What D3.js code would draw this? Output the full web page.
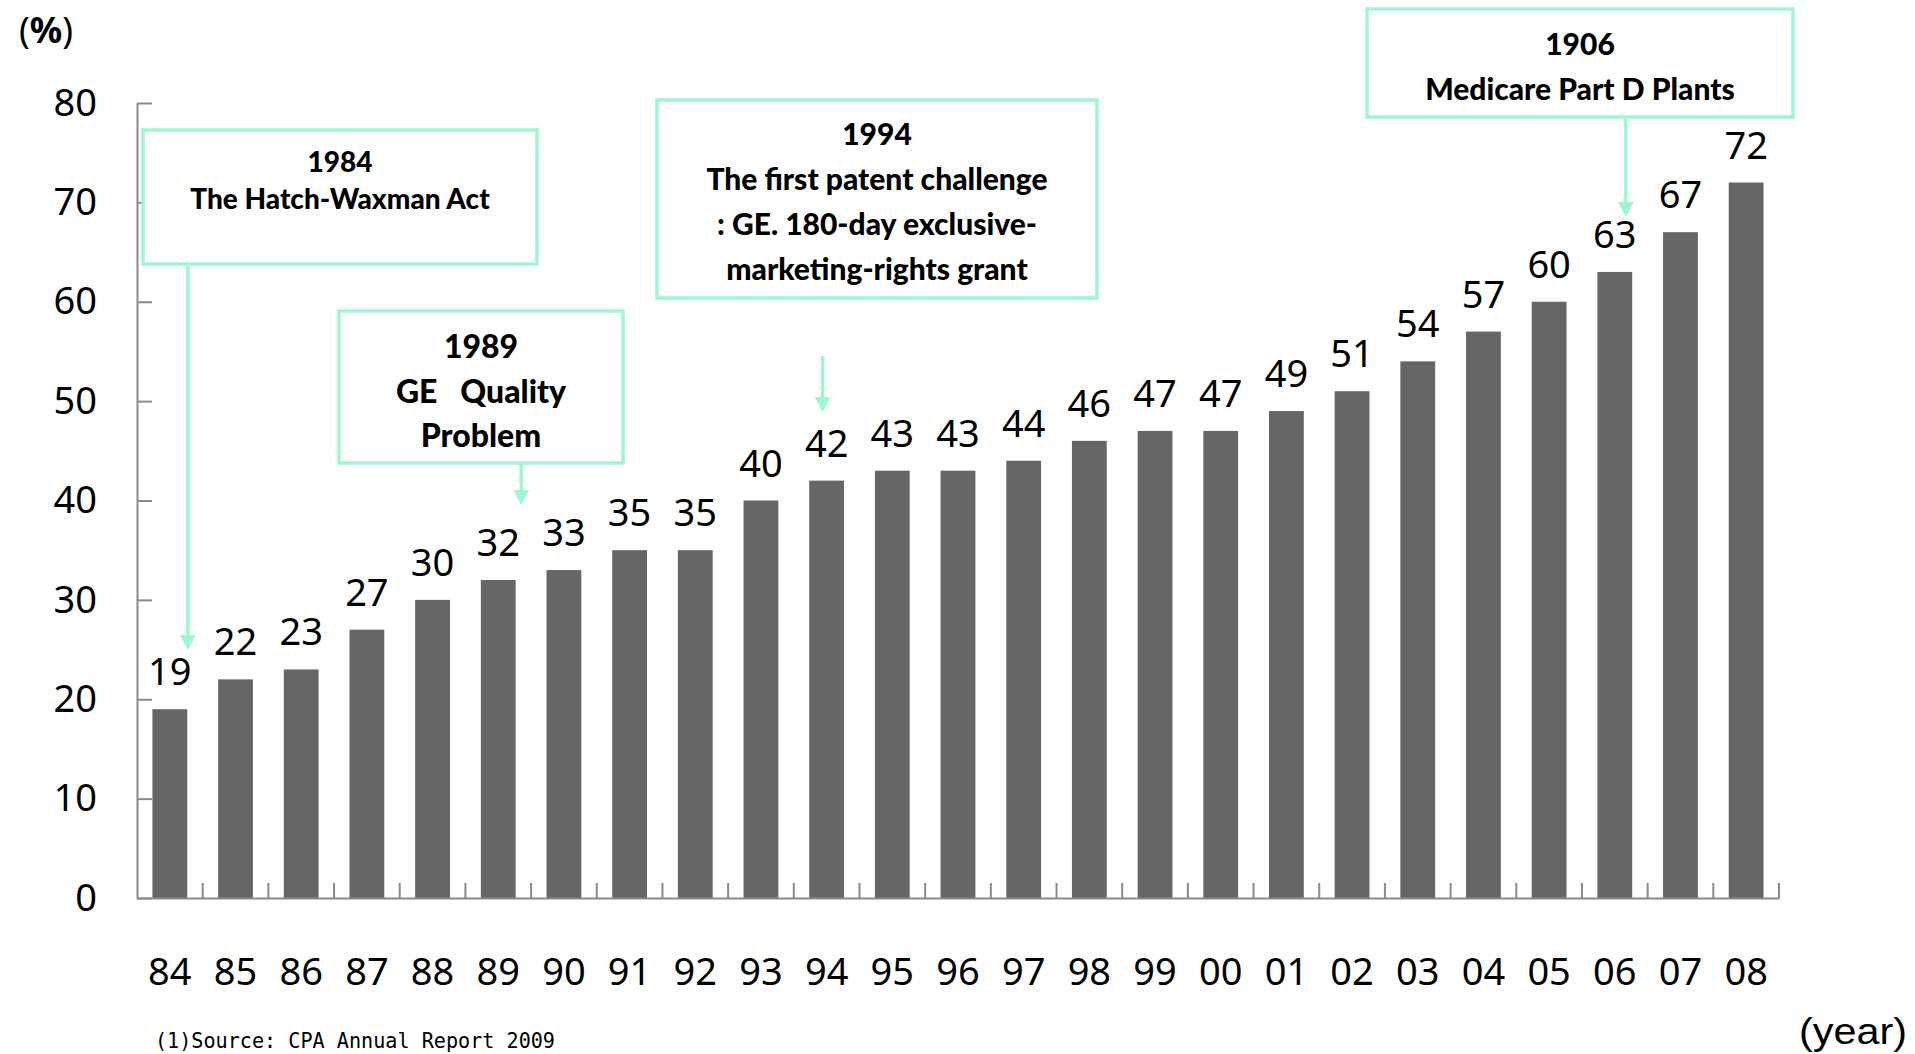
<!DOCTYPE html>
<html lang="en">
<head>
    <meta charset="UTF-8"/>
    <title>Generic share</title>
    <script src="https://cdn.jsdelivr.net/npm/d3@7"></script>
    <style>
        body {
            margin: 0;
            background: white;
        }
    </style>
</head>
<body>
<div id="chart"></div>
<script>
    const years = ["84", "85", "86", "87", "88", "89", "90", "91", "92", "93", "94", "95", "96",
        "97", "98", "99", "00", "01", "02", "03", "04", "05", "06", "07", "08"];
    const shares = [19, 22, 23, 27, 30, 32, 33, 35, 35, 40, 42, 43, 43, 44, 46, 47, 47, 49, 51, 54, 57, 60, 63, 67, 72];
    const yTicks = [0, 10, 20, 30, 40, 50, 60, 70, 80];

    // annotation texts
    const noteYears = ["84", "89", "94", "06"];
    const noteLines = [
        ["1984", "The Hatch-Waxman Act"],
        ["1989", "GE\u00a0\u00a0 Quality", "Problem"],
        ["1994", "The first patent challenge", ": GE. 180-day exclusive-", "marketing-rights grant"],
        ["1906", "Medicare Part D Plants"]
    ];

    const width = 1915;
    const height = 1054;
    const margin = {top: 103, right: 136, bottom: 156, left: 137};
    const gW = width - margin.left - margin.right;
    const gH = height - margin.top - margin.bottom;

    const mint = "#9ef7d0";
    const axisColor = "#8a8a8a";
    const numFont = "'Noto Sans', sans-serif";
    const noteFont = "Lato, 'Open Sans', sans-serif";

    const svg = d3.select("#chart")
        .append("svg")
        .attr("width", width)
        .attr("height", height);

    const g = svg.append("g").attr("transform", `translate(${margin.left}, ${margin.top})`);

    const xScale = d3.scaleBand()
        .domain(years)
        .range([0, gW])
        .paddingInner(0.47)
        .paddingOuter(0.235);
    const yScale = d3.scaleLinear().domain([0, 80]).range([gH, 0]);

    // Y axis, ticks pointing inward
    const yAxis = g.append("g")
        .call(d3.axisLeft(yScale).tickValues(yTicks).tickSizeInner(-15).tickSizeOuter(0).tickPadding(40));
    yAxis.selectAll("line, path").attr("stroke", axisColor).attr("stroke-width", 2);
    yAxis.selectAll("text")
        .style("font-family", numFont)
        .style("font-size", "38px")
        .attr("fill", "black");

    // bars
    g.selectAll(".bar")
        .data(shares)
        .join("rect")
        .attr("class", "bar")
        .attr("x", (d, i) => xScale(years[i]))
        .attr("y", d => yScale(d))
        .attr("width", xScale.bandwidth())
        .attr("height", d => gH - yScale(d))
        .attr("fill", "#666666");

    // value labels
    g.selectAll(".val")
        .data(shares)
        .join("text")
        .attr("class", "val")
        .attr("x", (d, i) => xScale(years[i]) + xScale.bandwidth() / 2)
        .attr("y", d => yScale(d) - 24)
        .attr("text-anchor", "middle")
        .style("font-family", numFont)
        .style("font-size", "38px")
        .text(d => d);

    // X axis: labels at band centers, ticks at band boundaries
    const xAxis = g.append("g")
        .attr("transform", `translate(0, ${gH})`)
        .call(d3.axisBottom(xScale).tickSize(0).tickPadding(60));
    xAxis.select(".domain").attr("stroke", axisColor).attr("stroke-width", 2);
    xAxis.selectAll("text")
        .style("font-family", numFont)
        .style("font-size", "38px")
        .attr("fill", "black");

    const half = xScale.step() * xScale.paddingInner() / 2;
    g.append("g")
        .selectAll("line")
        .data(years)
        .join("line")
        .attr("x1", d => xScale(d) + xScale.bandwidth() + half)
        .attr("x2", d => xScale(d) + xScale.bandwidth() + half)
        .attr("y1", gH)
        .attr("y2", gH - 15)
        .attr("stroke", axisColor)
        .attr("stroke-width", 2);

    // unit labels
    const pct = svg.append("text")
        .attr("x", 19)
        .attr("y", 43)
        .style("font-family", numFont)
        .style("font-size", "36px");
    pct.append("tspan").text("(");
    pct.append("tspan").style("font-weight", "bold").text("%");
    pct.append("tspan").text(")");

    svg.append("text")
        .attr("x", 1907)
        .attr("y", 1044)
        .attr("text-anchor", "end")
        .style("font-family", "'Liberation Sans', Arial, sans-serif")
        .style("font-size", "36px")
        .attr("textLength", 108)
        .attr("lengthAdjust", "spacingAndGlyphs")
        .text("(year)");

    svg.append("text")
        .attr("x", 155)
        .attr("y", 1048)
        .style("font-family", "'DejaVu Sans Mono', monospace")
        .style("font-size", "22px")
        .attr("textLength", 400)
        .attr("lengthAdjust", "spacingAndGlyphs")
        .text("(1)Source: CPA Annual Report 2009");

    // annotation boxes (page coordinates) and arrows
    const noteLayout = [
        {x: 143, y: 130, w: 394, h: 134, size: 28, base: 172, gap: 37, dx: 18, tip: 650, from: "box"},
        {x: 339, y: 311, w: 284, h: 152, size: 32, base: 358, gap: 44.5, dx: 23, tip: 505, from: "box"},
        {x: 657, y: 100, w: 440, h: 198, size: 30, base: 145, gap: 45, dx: -4, tip: 412, from: 356},
        {x: 1367, y: 9, w: 426, h: 108, size: 30, base: 55, gap: 45, dx: 11, tip: 217, from: "box"}
    ];

    const notes = svg.append("g");
    noteLayout.forEach((lay, i) => {
        const box = notes.append("g");
        box.append("rect")
            .attr("x", lay.x)
            .attr("y", lay.y)
            .attr("width", lay.w)
            .attr("height", lay.h)
            .attr("fill", "white")
            .attr("stroke", mint)
            .attr("stroke-width", 3.5);

        box.selectAll("text")
            .data(noteLines[i])
            .join("text")
            .attr("x", lay.x + lay.w / 2)
            .attr("y", (d, k) => lay.base + k * lay.gap)
            .attr("text-anchor", "middle")
            .style("font-family", noteFont)
            .style("font-weight", "900")
            .style("font-size", lay.size + "px")
            .text(d => d);

        const ax = margin.left + xScale(noteYears[i]) + xScale.bandwidth() / 2 + lay.dx;
        const y0 = lay.from === "box" ? lay.y + lay.h : lay.from;
        notes.append("line")
            .attr("x1", ax)
            .attr("x2", ax)
            .attr("y1", y0)
            .attr("y2", lay.tip - 12)
            .attr("stroke", mint)
            .attr("stroke-width", 3.5);
        notes.append("path")
            .attr("d", `M${ax - 8},${lay.tip - 15} L${ax + 8},${lay.tip - 15} L${ax},${lay.tip} Z`)
            .attr("fill", mint);
    });
</script>
</body>
</html>
